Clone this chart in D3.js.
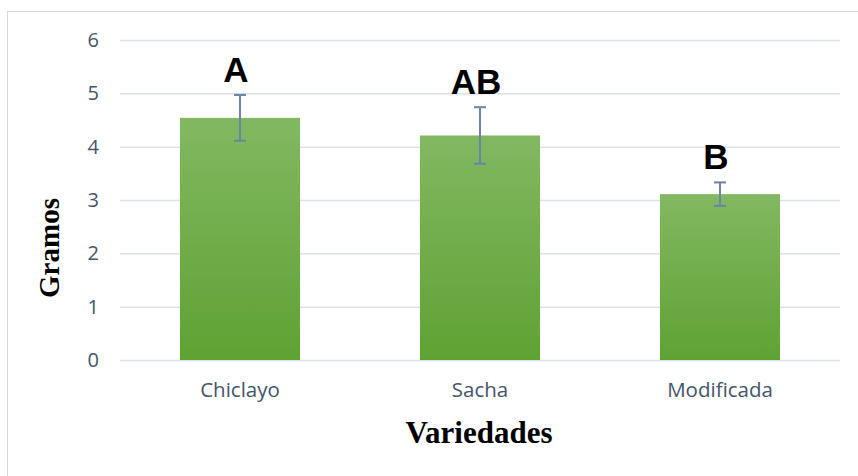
<!DOCTYPE html>
<html>
<head>
<meta charset="utf-8">
<script src="https://cdn.jsdelivr.net/npm/d3@7"></script>
<style>
  html, body { margin: 0; padding: 0; background: #fff; }
  svg { display: block; }
</style>
</head>
<body>
<svg id="chart" width="858" height="476"></svg>
<script>
// Peso medio (g) por variedad, con su error y la letra de significancia
const categories = ["Chiclayo", "Sacha", "Modificada"];
const means = [4.54, 4.21, 3.11];
const errors = [0.43, 0.53, 0.22];
const letters = ["A", "AB", "B"];
const yTicks = [0, 1, 2, 3, 4, 5, 6];

const svg = d3.select("#chart");
const W = 858, H = 476;
const plot = { left: 120, right: 840, top: 40, bottom: 360 };

// Marco exterior del gráfico
svg.append("rect")
  .attr("x", 7.5).attr("y", 11.5)
  .attr("width", W).attr("height", H)
  .attr("fill", "#fff")
  .attr("stroke", "#d9d9d9")
  .attr("stroke-width", 1);

const x = d3.scaleBand()
  .domain(categories)
  .range([plot.left, plot.right])
  .paddingInner(0.5)
  .paddingOuter(0.25);

const y = d3.scaleLinear()
  .domain([0, 6])
  .range([plot.bottom, plot.top]);

// Degradado vertical de las barras
const defs = svg.append("defs");
const grad = defs.append("linearGradient")
  .attr("id", "barGrad")
  .attr("x1", 0).attr("y1", 0).attr("x2", 0).attr("y2", 1);
grad.append("stop").attr("offset", "0%").attr("stop-color", "#82b862");
grad.append("stop").attr("offset", "100%").attr("stop-color", "#5fa233");

// Líneas de cuadrícula horizontales
const yAxis = d3.axisLeft(y)
  .tickValues(yTicks)
  .tickSize(-(plot.right - plot.left))
  .tickPadding(21)
  .tickFormat(d3.format("d"));

const gy = svg.append("g")
  .attr("transform", `translate(${plot.left},0)`)
  .call(yAxis);
gy.select(".domain").remove();
gy.selectAll(".tick line")
  .attr("stroke", "#dde2e8")
  .attr("stroke-width", 1.5);
gy.selectAll(".tick text")
  .attr("fill", "#44546a")
  .style("font-family", "'Open Sans', sans-serif")
  .style("font-size", "20px");

// Barras
svg.append("g").selectAll("rect")
  .data(categories)
  .join("rect")
  .attr("x", d => x(d))
  .attr("y", (d, i) => y(means[i]))
  .attr("width", x.bandwidth())
  .attr("height", (d, i) => y(0) - y(means[i]))
  .attr("fill", "url(#barGrad)");

// Barras de error
const eb = svg.append("g")
  .attr("stroke", "#6b84a9")
  .attr("stroke-width", 2)
  .attr("fill", "none");
categories.forEach((c, i) => {
  const cx = x(c) + x.bandwidth() / 2;
  const top = y(means[i] + errors[i]);
  const bot = y(means[i] - errors[i]);
  eb.append("line").attr("x1", cx).attr("x2", cx).attr("y1", top).attr("y2", bot);
  eb.append("line").attr("x1", cx - 6).attr("x2", cx + 6).attr("y1", top).attr("y2", top);
  eb.append("line").attr("x1", cx - 6).attr("x2", cx + 6).attr("y1", bot).attr("y2", bot);
});

// Letras de significancia sobre cada barra
svg.append("g").selectAll("text")
  .data(categories)
  .join("text")
  .attr("x", d => x(d) + x.bandwidth() / 2 - 4)
  .attr("y", (d, i) => y(means[i] + errors[i]) - 13)
  .attr("text-anchor", "middle")
  .attr("fill", "#000")
  .style("font-family", "'Liberation Sans', Arial, sans-serif")
  .style("font-weight", "bold")
  .style("font-size", "35px")
  .text((d, i) => letters[i]);

// Etiquetas de categorías
const xAxis = d3.axisBottom(x).tickSize(0).tickPadding(22);
const gx = svg.append("g")
  .attr("transform", `translate(0,${plot.bottom})`)
  .call(xAxis);
gx.select(".domain").remove();
gx.selectAll(".tick text")
  .attr("fill", "#44546a")
  .style("font-family", "'Open Sans', sans-serif")
  .style("font-size", "20.5px");

// Títulos de los ejes
svg.append("text")
  .attr("x", 479).attr("y", 443)
  .attr("text-anchor", "middle")
  .style("font-family", "'Liberation Serif', 'Times New Roman', serif")
  .style("font-weight", "bold")
  .style("font-size", "31px")
  .attr("fill", "#000")
  .text("Variedades");

svg.append("text")
  .attr("transform", "translate(59,248) rotate(-90)")
  .attr("text-anchor", "middle")
  .style("font-family", "'Liberation Serif', 'Times New Roman', serif")
  .style("font-weight", "bold")
  .style("font-size", "29px")
  .attr("fill", "#000")
  .text("Gramos");
</script>
</body>
</html>
